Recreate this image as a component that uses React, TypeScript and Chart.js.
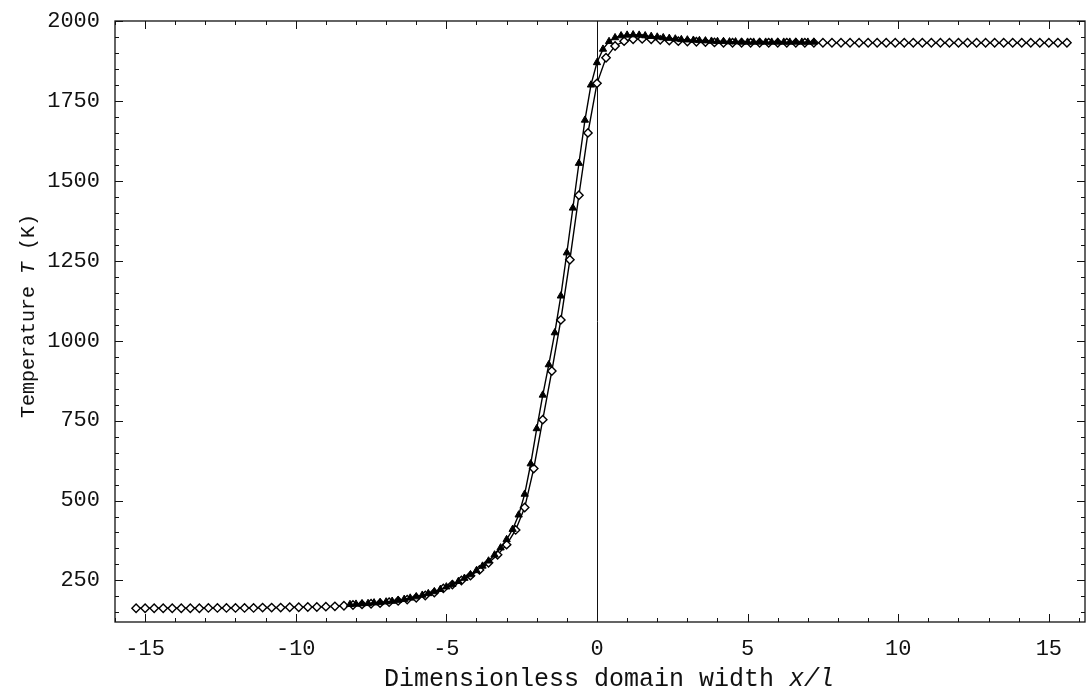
import React, { useEffect, useRef } from "react";
import { Chart, registerables } from "chart.js";
Chart.register(...registerables);

// Series with filled triangles
const triX = [
  -8.2, -8.0, -7.8, -7.6, -7.4, -7.2, -7.0, -6.8, -6.6, -6.4,
  -6.2, -6.0, -5.8, -5.6, -5.4, -5.2, -5.0, -4.8, -4.6, -4.4,
  -4.2, -4.0, -3.8, -3.6, -3.4, -3.2, -3.0, -2.8, -2.6, -2.4,
  -2.2, -2.0, -1.8, -1.6, -1.4, -1.2, -1.0, -0.8, -0.6, -0.4,
  -0.2, 0.0, 0.2, 0.4, 0.6, 0.8, 1.0, 1.2, 1.4, 1.6,
  1.8, 2.0, 2.2, 2.4, 2.6, 2.8, 3.0, 3.2, 3.4, 3.6,
  3.8, 4.0, 4.2, 4.4, 4.6, 4.8,
  5.0, 5.2, 5.4, 5.6, 5.8, 6.0, 6.2, 6.4, 6.6, 6.8, 7.0, 7.2,
];
const triT = [
  175, 176, 177, 178, 180, 181, 183, 185, 188, 191,
  195, 199, 204, 209, 215, 222, 230, 238, 247, 257,
  268, 281, 295, 311, 330, 352, 378, 410, 455, 520,
  615, 725, 830, 925, 1025, 1140, 1275, 1415, 1555, 1690,
  1800, 1870, 1912, 1936, 1948, 1954, 1956, 1957, 1956, 1954,
  1952, 1950, 1948, 1946, 1944, 1942, 1941, 1940, 1939, 1938,
  1937, 1936, 1936, 1935, 1935, 1934,
  1934, 1934, 1934, 1934, 1934, 1934, 1934, 1934, 1934, 1934, 1934, 1934,
];

// Series with open diamonds
const diaX = [
  -15.3, -15.0, -14.7, -14.4, -14.1, -13.8, -13.5, -13.2, -12.9, -12.6, -12.3, -12.0,
  -11.7, -11.4, -11.1, -10.8, -10.5, -10.2, -9.9, -9.6, -9.3, -9.0,
  -8.7, -8.4, -8.1, -7.8, -7.5, -7.2, -6.9, -6.6, -6.3, -6.0,
  -5.7, -5.4, -5.1, -4.8, -4.5, -4.2, -3.9, -3.6, -3.3, -3.0,
  -2.7, -2.4, -2.1, -1.8, -1.5, -1.2, -0.9, -0.6, -0.3, 0.0,
  0.3, 0.6, 0.9, 1.2, 1.5, 1.8, 2.1, 2.4, 2.7, 3.0,
  3.3, 3.6, 3.9,
  4.2, 4.5, 4.8, 5.1, 5.4, 5.7, 6.0, 6.3, 6.6, 6.9,
  7.2, 7.5, 7.8, 8.1, 8.4, 8.7, 9.0, 9.3, 9.6, 9.9,
  10.2, 10.5, 10.8, 11.1, 11.4, 11.7, 12.0, 12.3, 12.6, 12.9,
  13.2, 13.5, 13.8, 14.1, 14.4, 14.7, 15.0, 15.3, 15.6,
];
const diaT = [
  163, 163, 163, 163, 163, 163, 163, 163, 164, 164, 164, 164,
  164, 164, 165, 165, 165, 166, 166, 167, 167, 168,
  169, 171, 173, 175, 177, 179, 182, 186, 190, 196,
  203, 212, 225, 237, 250, 265, 283, 305, 330, 362,
  408, 478, 600, 753, 905, 1065, 1253, 1455, 1650, 1805,
  1885, 1922, 1937, 1943, 1944, 1943, 1941, 1939, 1937, 1936,
  1935, 1934, 1933,
  1932, 1932, 1932, 1932, 1932, 1932, 1932, 1932, 1932, 1932,
  1932, 1932, 1932, 1932, 1932, 1932, 1932, 1932, 1932, 1932,
  1932, 1932, 1932, 1932, 1932, 1932, 1932, 1932, 1932, 1932,
  1932, 1932, 1932, 1932, 1932, 1932, 1932, 1932, 1932,
];

const xTickLabels = [-15, -10, -5, 0, 5, 10, 15];
const yTickLabels = [250, 500, 750, 1000, 1250, 1500, 1750, 2000];
const xTitle = "Dimensionless domain width ";
const xTitleItalic = "x/l";
const yTitleA = "Temperature ";
const yTitleItalic = "T";
const yTitleB = " (K)";

const X_MIN = -16;
const X_MAX = 16.2;
const Y_MIN = 120;
const Y_MAX = 2000;

const FONT = "'Liberation Mono', 'Courier New', monospace";
const INK = "#111";

const zeroPad = (s: any) => {
  s.paddingTop = 0;
  s.paddingBottom = 0;
  s.paddingLeft = 0;
  s.paddingRight = 0;
};

const framePlugin = {
  id: "frame",
  beforeDatasetsDraw(chart: any) {
    const { ctx, chartArea: a, scales } = chart;
    const x0 = Math.round(scales.x.getPixelForValue(0)) + 0.5;
    ctx.save();
    ctx.strokeStyle = INK;
    ctx.lineWidth = 1;
    ctx.beginPath();
    ctx.moveTo(x0, a.top);
    ctx.lineTo(x0, a.bottom);
    ctx.stroke();
    ctx.restore();
  },
  afterDraw(chart: any) {
    const { ctx, chartArea: a, scales } = chart;
    const xs = scales.x;
    const ys = scales.y;
    ctx.save();
    ctx.strokeStyle = INK;
    ctx.lineWidth = 1.3;
    ctx.strokeRect(a.left, a.top, a.right - a.left, a.bottom - a.top);

    ctx.lineWidth = 1;
    ctx.beginPath();
    for (let v = -16; v <= 16; v += 1) {
      const px = Math.round(xs.getPixelForValue(v)) + 0.5;
      const len = v % 5 === 0 ? 8 : 4;
      ctx.moveTo(px, a.bottom);
      ctx.lineTo(px, a.bottom - len);
      ctx.moveTo(px, a.top);
      ctx.lineTo(px, a.top + len);
    }
    for (let v = 150; v <= 2000; v += 50) {
      const py = Math.round(ys.getPixelForValue(v)) + 0.5;
      const len = v % 250 === 0 ? 8 : 4;
      ctx.moveTo(a.left, py);
      ctx.lineTo(a.left + len, py);
      ctx.moveTo(a.right, py);
      ctx.lineTo(a.right - len, py);
    }
    ctx.stroke();

    // x title
    ctx.fillStyle = INK;
    ctx.textBaseline = "alphabetic";
    ctx.textAlign = "left";
    const fN = `25px ${FONT}`;
    const fI = `italic 25px ${FONT}`;
    ctx.font = fN;
    const w1 = ctx.measureText(xTitle).width;
    ctx.font = fI;
    const w2 = ctx.measureText(xTitleItalic).width;
    const sx = 609 - (w1 + w2) / 2;
    ctx.font = fN;
    ctx.fillText(xTitle, sx, 686);
    ctx.font = fI;
    ctx.fillText(xTitleItalic, sx + w1, 686);

    // y title
    ctx.translate(34, 316);
    ctx.rotate(-Math.PI / 2);
    const gN = `20px ${FONT}`;
    const gI = `italic 20px ${FONT}`;
    ctx.font = gN;
    const a1 = ctx.measureText(yTitleA).width;
    const a3 = ctx.measureText(yTitleB).width;
    ctx.font = gI;
    const a2 = ctx.measureText(yTitleItalic).width;
    const st = -(a1 + a2 + a3) / 2;
    ctx.font = gN;
    ctx.fillText(yTitleA, st, 0);
    ctx.font = gI;
    ctx.fillText(yTitleItalic, st + a1, 0);
    ctx.font = gN;
    ctx.fillText(yTitleB, st + a1 + a2, 0);
    ctx.restore();
  },
};

export default function App() {
  const ref = useRef<HTMLCanvasElement>(null);
  useEffect(() => {
    if (!ref.current) return;
    const chart = new Chart(ref.current, {
      type: "scatter",
      data: {
        datasets: [
          {
            label: "triangles",
            data: triX.map((x, i) => ({ x, y: triT[i] })),
            showLine: true,
            borderColor: "#000",
            borderWidth: 1.4,
            pointStyle: "triangle",
            pointRadius: 4.2,
            pointBackgroundColor: "#000",
            pointBorderColor: "#000",
            pointBorderWidth: 1,
          },
          {
            label: "diamonds",
            data: diaX.map((x, i) => ({ x, y: diaT[i] })),
            showLine: true,
            borderColor: "#000",
            borderWidth: 1.4,
            pointStyle: "rectRot",
            pointRadius: 4.2,
            pointBackgroundColor: "#fff",
            pointBorderColor: "#000",
            pointBorderWidth: 1.4,
          },
        ],
      },
      options: {
        animation: false,
        responsive: true,
        maintainAspectRatio: false,
        layout: { autoPadding: false, padding: { top: 21, right: 1, left: 0, bottom: 0 } },
        plugins: { legend: { display: false }, tooltip: { enabled: false } },
        scales: {
          x: {
            type: "linear",
            min: X_MIN,
            max: X_MAX,
            grid: { display: false, drawTicks: false },
            border: { display: false },
            afterBuildTicks: (s: any) => {
              s.ticks = xTickLabels.map((v) => ({ value: v }));
            },
            afterFit: (s: any) => {
              s.height = 68;
              zeroPad(s);
            },
            ticks: {
              padding: 14,
              color: INK,
              font: { family: FONT, size: 22 },
              maxRotation: 0,
              autoSkip: false,
              callback: (v: any) => String(v),
            },
          },
          y: {
            type: "linear",
            min: Y_MIN,
            max: Y_MAX,
            grid: { display: false, drawTicks: false },
            border: { display: false },
            afterBuildTicks: (s: any) => {
              s.ticks = yTickLabels.map((v) => ({ value: v }));
            },
            afterFit: (s: any) => {
              s.width = 115;
              zeroPad(s);
            },
            ticks: {
              padding: 15,
              color: INK,
              font: { family: FONT, size: 22 },
              autoSkip: false,
              callback: (v: any) => String(v),
            },
          },
        },
      },
      plugins: [framePlugin],
    });
    return () => chart.destroy();
  }, []);
  return (
    <div style={{ position: "fixed", left: 0, top: 0, width: 1086, height: 690, background: "#fff" }}>
      <canvas ref={ref} />
    </div>
  );
}
